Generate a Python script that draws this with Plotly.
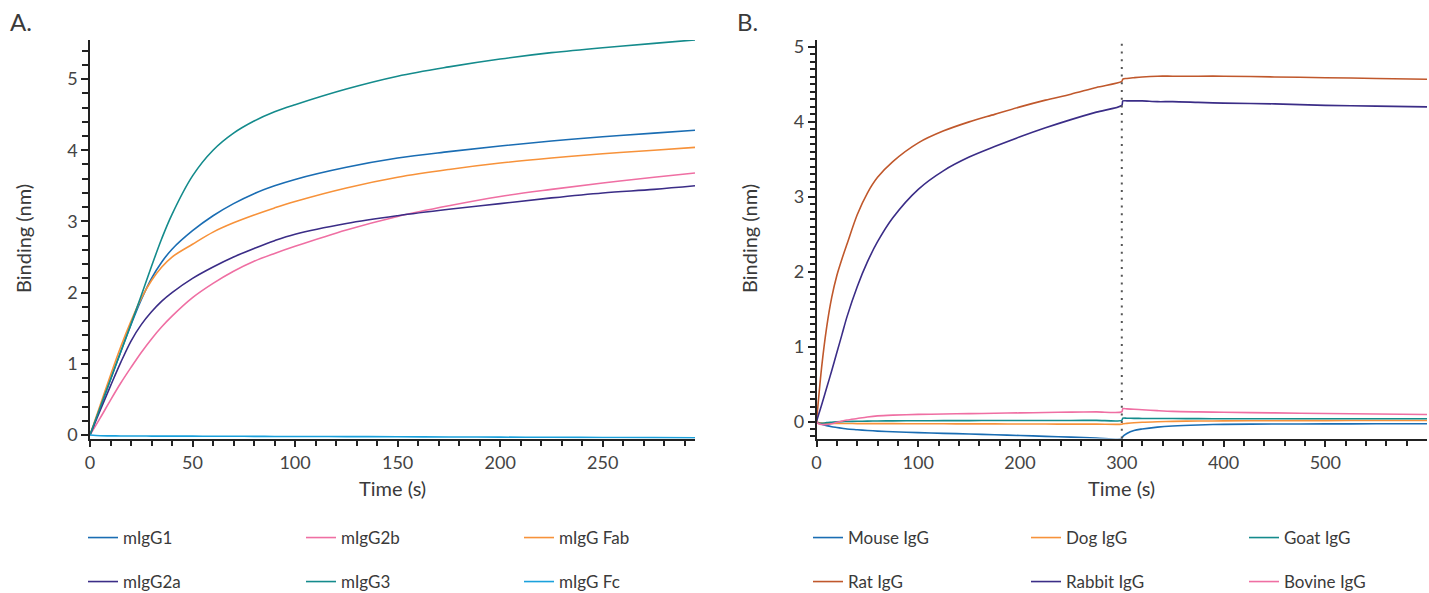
import plotly.graph_objects as go

W, H = 1429, 593

# ---------------- Panel A: mouse IgG subclasses and fragments ----------------
t_a = [0, 5, 10, 15, 20, 25, 30, 35, 40, 50, 60, 70, 80, 90, 100,
       125, 150, 175, 200, 225, 250, 275, 295]
migg1 = [0, 0.39, 0.78, 1.17, 1.55, 1.90, 2.20, 2.43, 2.61, 2.87, 3.08, 3.25, 3.39, 3.50, 3.59,
         3.76, 3.89, 3.98, 4.06, 4.13, 4.19, 4.24, 4.28]
migg2b = [0, 0.24, 0.49, 0.73, 0.95, 1.16, 1.35, 1.52, 1.67, 1.93, 2.13, 2.30, 2.44, 2.55, 2.65,
          2.88, 3.07, 3.22, 3.35, 3.45, 3.54, 3.62, 3.68]
migg_fab = [0, 0.42, 0.84, 1.24, 1.60, 1.92, 2.17, 2.36, 2.50, 2.68, 2.85, 2.98, 3.09, 3.19, 3.28,
            3.47, 3.62, 3.73, 3.82, 3.89, 3.95, 4.00, 4.04]
migg2a = [0, 0.35, 0.69, 1.02, 1.32, 1.55, 1.73, 1.88, 2.00, 2.20, 2.36, 2.50, 2.62, 2.73, 2.82,
          2.97, 3.08, 3.17, 3.25, 3.33, 3.40, 3.45, 3.50]
migg3 = [0, 0.39, 0.78, 1.17, 1.56, 1.96, 2.37, 2.76, 3.10, 3.64, 4.00, 4.24, 4.41, 4.54, 4.64,
         4.86, 5.04, 5.17, 5.28, 5.37, 5.44, 5.50, 5.55]
migg_fc = [0, -0.01, -0.012, -0.013, -0.014, -0.014, -0.015, -0.015, -0.015, -0.016, -0.017, -0.018, -0.019, -0.02, -0.02,
           -0.022, -0.025, -0.027, -0.03, -0.032, -0.035, -0.037, -0.04]

# ---------------- Panel B: IgG from other species ----------------
t_b = [0, 2, 5, 10, 15, 20, 25, 30, 40, 50, 60, 75, 100, 125, 150, 175, 200, 225, 250, 275, 300,
       301, 305, 312, 320, 335, 350, 375, 400, 450, 500, 550, 600]
mouse_igg = [0, -0.02, -0.035, -0.055, -0.07, -0.08, -0.09, -0.1, -0.11, -0.12, -0.128, -0.137, -0.148, -0.158,
             -0.167, -0.177, -0.187, -0.198, -0.209, -0.22, -0.23,
             -0.2, -0.16, -0.12, -0.1, -0.075, -0.06, -0.046, -0.038, -0.034, -0.032, -0.031, -0.031]
dog_igg = [0, -0.015, -0.02, -0.025, -0.025, -0.026, -0.026, -0.027, -0.028, -0.028, -0.029, -0.029, -0.03, -0.031,
           -0.032, -0.032, -0.033, -0.034, -0.035, -0.035, -0.036,
           -0.03, -0.025, -0.017, -0.01, -0.003, 0.002, 0.006, 0.008, 0.01, 0.012, 0.013, 0.013]
goat_igg = [0, -0.02, -0.025, -0.015, -0.01, -0.005, -0.002, 0, 0.003, 0.005, 0.007, 0.008, 0.01, 0.011,
            0.012, 0.013, 0.013, 0.014, 0.014, 0.015, 0.015,
            0.044, 0.043, 0.042, 0.041, 0.04, 0.039, 0.038, 0.037, 0.037, 0.036, 0.036, 0.036]
rat_igg = [0, 0.30, 0.72, 1.26, 1.66, 1.95, 2.17, 2.37, 2.76, 3.05, 3.26, 3.47, 3.72, 3.88, 4.00, 4.10, 4.20,
           4.29, 4.37, 4.46, 4.54,
           4.57, 4.58, 4.59, 4.60, 4.61, 4.61, 4.61, 4.61, 4.60, 4.59, 4.58, 4.57]
rabbit_igg = [0, 0.09, 0.22, 0.45, 0.68, 0.92, 1.16, 1.40, 1.80, 2.13, 2.40, 2.72, 3.10, 3.35, 3.53, 3.67, 3.80,
              3.92, 4.03, 4.13, 4.22,
              4.28, 4.28, 4.28, 4.28, 4.27, 4.27, 4.26, 4.25, 4.24, 4.22, 4.21, 4.20]
bovine_igg = [0, -0.03, -0.04, -0.04, -0.03, -0.01, 0.005, 0.02, 0.04, 0.06, 0.075, 0.085, 0.095, 0.10, 0.105,
              0.11, 0.115, 0.12, 0.125, 0.128, 0.13,
              0.17, 0.168, 0.163, 0.157, 0.145, 0.135, 0.128, 0.123, 0.115, 0.107, 0.10, 0.094]
dissociation_start = 300

BLUE = "#1a6db3"
PINK = "#ef6fa3"
ORANGE = "#f7923a"
INDIGO = "#3b2d87"
TEAL = "#148b8c"
SKY = "#1ba1dc"
RUST = "#c0582c"

FONT = "Lato"
TXT = "#3a3a3a"

fig = go.Figure()

series_a = [
    ("mIgG1", migg1, BLUE, "legend"),
    ("mIgG2b", migg2b, PINK, "legend"),
    ("mIgG Fab", migg_fab, ORANGE, "legend"),
    ("mIgG2a", migg2a, INDIGO, "legend2"),
    ("mIgG3", migg3, TEAL, "legend2"),
    ("mIgG Fc", migg_fc, SKY, "legend2"),
]
for name, vals, col, leg in series_a:
    fig.add_trace(go.Scatter(x=t_a, y=vals, name=name, mode="lines",
                             line=dict(color=col, width=1.6, shape="spline", smoothing=1.0),
                             xaxis="x", yaxis="y", legend=leg))

series_b = [
    ("Mouse IgG", mouse_igg, BLUE, "legend3"),
    ("Dog IgG", dog_igg, ORANGE, "legend3"),
    ("Goat IgG", goat_igg, TEAL, "legend3"),
    ("Rat IgG", rat_igg, RUST, "legend4"),
    ("Rabbit IgG", rabbit_igg, INDIGO, "legend4"),
    ("Bovine IgG", bovine_igg, PINK, "legend4"),
]
for name, vals, col, leg in series_b:
    fig.add_trace(go.Scatter(x=t_b, y=vals, name=name, mode="lines",
                             line=dict(color=col, width=1.6, shape="spline", smoothing=0.8),
                             xaxis="x2", yaxis="y2", legend=leg))

# plot area geometry (pixels -> paper fractions)
y_dom = [1 - 438.5 / H, 1 - 40 / H]
xa_dom = [90 / W, 695 / W]
xb_dom = [816.5 / W, 1427 / W]

axis_common = dict(
    showline=True, linecolor="#222", linewidth=1.5,
    ticks="outside", ticklen=7, tickwidth=1.5, tickcolor="#222",
    showgrid=False, zeroline=False,
    tickfont=dict(family=FONT, size=18, color="#444"),
)

fig.update_layout(
    width=W, height=H,
    margin=dict(l=0, r=0, t=0, b=0, autoexpand=False),
    paper_bgcolor="white", plot_bgcolor="white",
    font=dict(family=FONT, color=TXT),
    xaxis=dict(domain=xa_dom, anchor="y", range=[0, 295], dtick=50, tick0=0,
               minor=dict(dtick=10, ticks="outside", ticklen=6, tickwidth=1.5, tickcolor="#222"),
               **axis_common),
    yaxis=dict(domain=y_dom, anchor="x", range=[-0.049, 5.548], dtick=1, tick0=0,
               minor=dict(dtick=0.2, ticks="outside", ticklen=6, tickwidth=1.5, tickcolor="#222"),
               **axis_common),
    xaxis2=dict(domain=xb_dom, anchor="y2", range=[0, 599.9], dtick=100, tick0=0,
                minor=dict(dtick=20, ticks="outside", ticklen=6, tickwidth=1.5, tickcolor="#222"),
                **axis_common),
    yaxis2=dict(domain=y_dom, anchor="x2", range=[-0.227, 5.093], dtick=1, tick0=0,
                minor=dict(dtick=0.1, ticks="outside", ticklen=5, tickwidth=1.5, tickcolor="#222"),
                **axis_common),
    showlegend=True,
)

legend_style = dict(orientation="h", entrywidth=173, entrywidthmode="pixels",
                    font=dict(family=FONT, size=17, color=TXT),
                    bgcolor="rgba(0,0,0,0)", xanchor="left", yanchor="middle",
                    itemclick=False, itemdoubleclick=False)
fig.update_layout(
    legend=dict(x=83 / W, y=1 - 538 / H, **legend_style),
    legend2=dict(x=83 / W, y=1 - 582 / H, **legend_style),
    legend3=dict(x=808 / W, y=1 - 538 / H, **legend_style),
    legend4=dict(x=808 / W, y=1 - 582 / H, **legend_style),
)

# start of the dissociation step
fig.add_shape(type="line", xref="x2", yref="y2 domain",
              x0=dissociation_start, x1=dissociation_start, y0=0, y1=1,
              line=dict(color="#555", width=2, dash="2px,5.7px"))

# panel letters and axis titles
ann = [
    dict(text="A.", x=8 / W, y=1 - 21 / H, xanchor="left", yanchor="middle", size=24),
    dict(text="B.", x=735 / W, y=1 - 21 / H, xanchor="left", yanchor="middle", size=24),
    dict(text="Time (s)", x=392.5 / W, y=1 - 488 / H, xanchor="center", yanchor="middle", size=20),
    dict(text="Time (s)", x=1121.5 / W, y=1 - 488 / H, xanchor="center", yanchor="middle", size=20),
]
for a in ann:
    fig.add_annotation(text=a["text"], x=a["x"], y=a["y"], xref="paper", yref="paper",
                       xanchor=a["xanchor"], yanchor=a["yanchor"], showarrow=False,
                       font=dict(family=FONT, size=a["size"], color=TXT))
for xc in (23 / W, 749 / W):
    fig.add_annotation(text="Binding (nm)", x=xc, y=1 - 239 / H, xref="paper", yref="paper",
                       xanchor="center", yanchor="middle", textangle=-90, showarrow=False,
                       font=dict(family=FONT, size=20, color=TXT))

fig.write_html("out.html")
